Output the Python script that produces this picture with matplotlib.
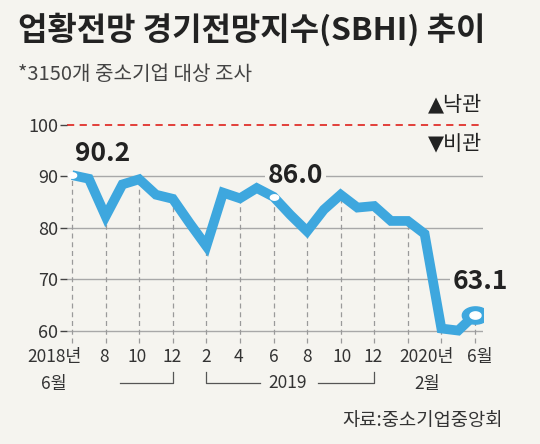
import numpy as np
import matplotlib.pyplot as plt
from matplotlib.transforms import blended_transform_factory

# 2018-06 ... 2020-06 monthly SBHI
months = list(range(25))
sbhi = [90.2, 89.5, 82.2, 88.4, 89.4, 86.4, 85.6, 80.9, 76.4, 86.8, 85.7, 87.7,
        86.0, 82.5, 79.3, 83.5, 86.4, 83.9, 84.2, 81.3, 81.3, 78.8, 60.4, 60.0, 63.1]
tick_top = ['2018년', '8', '10', '12', '2', '4', '6', '8', '10', '12', '2020년', '6월']
yticks = [60, 70, 80, 90, 100]
callouts = {0: '90.2', 12: '86.0', 24: '63.1'}

BG = '#f5f4ef'
BLUE = '#3ea7de'
KR = ['Noto Sans CJK KR', 'DejaVu Sans']
plt.rcParams['font.family'] = KR

fig = plt.figure(figsize=(5.4, 4.44), dpi=100, facecolor=BG)
ax = fig.add_axes([66.7 / 540, 1 - 346 / 444, 416.3 / 540, 247 / 444], facecolor=BG)
ax.set_xlim(-0.32, 24.48)
ax.set_ylim(57, 105)

# grid + reference line
ax.hlines([60, 70, 80, 90], -0.32, 24.48, color='#a8a8a8', lw=1, zorder=1)
ax.hlines(100, -0.32, 24.48, color='#e0312c', lw=1.3, ls=(0, (4, 3)), zorder=1)

# drop lines at even months
for i in range(0, 25, 2):
    ax.plot([i, i], [57.6, sbhi[i]], color='#9a9a9a', lw=0.9, ls=(0, (4, 3)),
            zorder=1, clip_on=False)

ax.plot(months, sbhi, color=BLUE, lw=7, solid_joinstyle='miter',
        solid_capstyle='butt', zorder=3)

# elliptical markers
t = np.linspace(0, 2 * np.pi, 40)
ell = np.column_stack([1.3 * np.cos(t), 0.85 * np.sin(t)])
ax.plot([0, 12], [sbhi[0], sbhi[12]], ls='none', marker=ell, ms=6,
        mfc='white', mec='white', zorder=4)
ax.plot([24], [sbhi[24]], ls='none', marker=ell, ms=19, mfc=BLUE, mec=BLUE, zorder=4)
ax.plot([24], [sbhi[24]], ls='none', marker=ell, ms=8, mfc='white', mec='white', zorder=5)

ax.text(1.8, 94.5, callouts[0], fontsize=19, fontweight='bold', ha='center',
        va='center', color='#222222')
ax.text(13.3, 90.2, callouts[12], fontsize=19, fontweight='bold', ha='center',
        va='center', color='#222222', zorder=2,
        bbox=dict(boxstyle='square,pad=0.1', fc=BG, ec='none'))
ax.text(24.3, 69.5, callouts[24], fontsize=19, fontweight='bold', ha='center',
        va='center', color='#222222', zorder=2,
        bbox=dict(boxstyle='square,pad=0.1', fc=BG, ec='none'))

ax.text(22.8, 104.0, '▲낙관', fontsize=15, ha='center', va='center',
        color='#222222', family=['DejaVu Sans', 'Noto Sans CJK KR'])
ax.text(22.8, 96.3, '▼비관', fontsize=15, ha='center', va='center',
        color='#222222', family=['DejaVu Sans', 'Noto Sans CJK KR'])

for s in ax.spines.values():
    s.set_visible(False)
ax.set_yticks(yticks)
ax.set_yticklabels([str(v) for v in yticks])
ax.tick_params(axis='y', length=5, width=1, color='#444444', pad=1,
               labelsize=13, labelcolor='#333333')
ax.set_xticks([])

# x labels in two rows (label centres, in month units)
label_x = [-1.07, 1.9, 3.85, 5.95, 8.0, 9.9, 12.0, 14.0, 16.1, 17.95, 21.1, 24.3]
tr = blended_transform_factory(ax.transData, fig.transFigure)
for x, lab in zip(label_x, tick_top):
    ax.text(x, 0.196, lab, transform=tr, ha='center', va='center',
            fontsize=12.5, color='#333333')
ax.text(-1.1, 0.135, '6월', transform=tr, ha='center', va='center', fontsize=12.5, color='#333333')
ax.text(21.15, 0.135, '2월', transform=tr, ha='center', va='center', fontsize=12.5, color='#333333')
ax.text(12.85, 0.137, '2019', transform=tr, ha='center', va='center', fontsize=12.5, color='#333333')
br = dict(color='#555555', lw=0.9, transform=tr, clip_on=False)
ax.plot([2.85, 6, 6], [0.137, 0.137, 0.162], **br)
ax.plot([8, 8, 11.2], [0.162, 0.137, 0.137], **br)
ax.plot([14.65, 18, 18], [0.137, 0.137, 0.162], **br)

fig.text(18 / 540, 1 - 30 / 444, '업황전망 경기전망지수(SBHI) 추이', fontsize=23,
         fontweight='bold', va='center', ha='left', color='#222222')
fig.text(18 / 540, 1 - 75 / 444, '*3150개 중소기업 대상 조사', fontsize=14.5,
         style='italic', va='center', ha='left', color='#444444')
fig.text(503 / 540, 1 - 420 / 444, '자료:중소기업중앙회', fontsize=13.5,
         va='center', ha='right', color='#333333')

fig.savefig('out.png', dpi=100, facecolor=BG)
